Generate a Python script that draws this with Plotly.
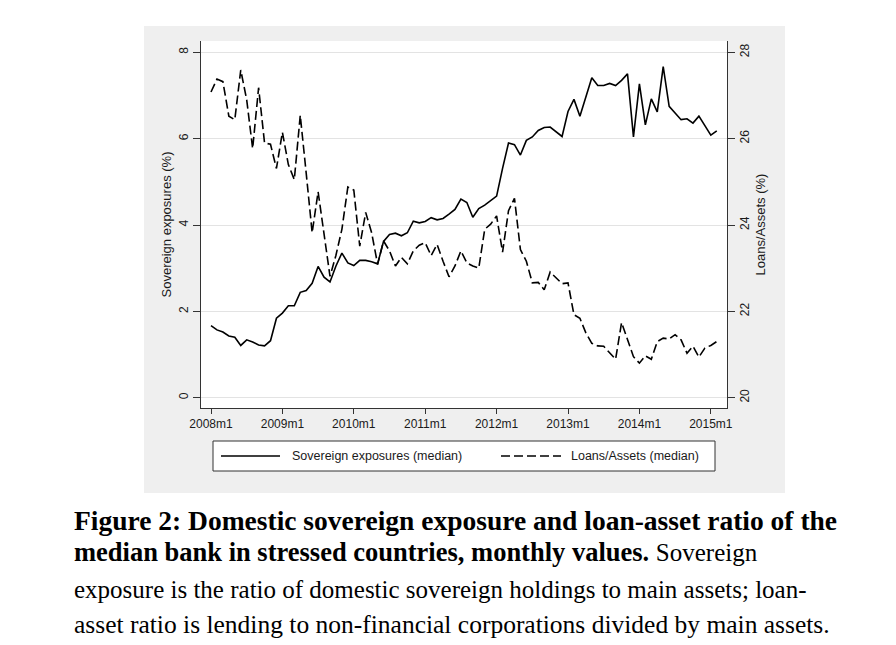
import plotly.graph_objects as go

# ---- data ----
years = [2008, 2009, 2010, 2011, 2012, 2013, 2014, 2015]
months = [f"{y}m{m}" for y in years for m in range(1, 13)][:86]  # 2008m1 .. 2015m2
tick_labels = ["2008m1", "2009m1", "2010m1", "2011m1", "2012m1", "2013m1", "2014m1", "2015m1"]

sovereign = [1.67, 1.57, 1.52, 1.43, 1.40, 1.21, 1.34, 1.29, 1.22, 1.20,
             1.32, 1.84, 1.96, 2.13, 2.13, 2.44, 2.48, 2.65, 3.04, 2.79,
             2.68, 3.05, 3.35, 3.12, 3.06, 3.18, 3.18, 3.15, 3.10, 3.62,
             3.78, 3.81, 3.75, 3.82, 4.09, 4.05, 4.08, 4.17, 4.12, 4.15,
             4.25, 4.36, 4.60, 4.52, 4.18, 4.38, 4.46, 4.56, 4.67, 5.31,
             5.90, 5.86, 5.62, 5.96, 6.04, 6.19, 6.26, 6.27, 6.17, 6.05,
             6.63, 6.91, 6.52, 6.96, 7.41, 7.23, 7.23, 7.28, 7.23, 7.35,
             7.50, 6.04, 7.27, 6.32, 6.92, 6.62, 7.67, 6.75, 6.59, 6.44,
             6.46, 6.36, 6.52, 6.29, 6.08, 6.18]

loans_assets = [27.08, 27.38, 27.32, 26.52, 26.44, 27.59, 26.90, 25.77, 27.18, 25.90,
                25.87, 25.31, 26.15, 25.40, 25.05, 26.54, 25.20, 23.82, 24.77, 23.75,
                22.81, 23.30, 23.90, 24.88, 24.81, 23.51, 24.29, 23.82, 23.09, 23.63,
                23.40, 23.05, 23.25, 23.10, 23.40, 23.53, 23.59, 23.29, 23.55, 23.16,
                22.80, 23.05, 23.40, 23.12, 23.05, 23.00, 23.90, 24.02, 24.21, 23.37,
                24.33, 24.62, 23.43, 23.16, 22.66, 22.67, 22.50, 22.91, 22.78, 22.64,
                22.66, 21.92, 21.84, 21.50, 21.26, 21.20, 21.19, 21.03, 20.89, 21.74,
                21.34, 20.95, 20.80, 20.97, 20.89, 21.30, 21.38, 21.36, 21.46, 21.34,
                21.03, 21.19, 20.94, 21.15, 21.21, 21.30]

left_ticks = [0, 2, 4, 6, 8]
right_ticks = [20, 22, 24, 26, 28]

name_sov = "Sovereign exposures (median)"
name_loan = "Loans/Assets (median)"

# ---- geometry helpers (pixel -> paper) ----
W, H = 896, 645
L, R, T, B = 201, 727, 41, 408
def px(x):
    return (x - L) / (R - L)
def py(y):
    return (B - y) / (B - T)

SANS = "Liberation Sans, Arial, Helvetica, sans-serif"
SERIF = "Liberation Serif, Times New Roman, serif"
INK = "#1a1a1a"

fig = go.Figure()
fig.add_trace(go.Scatter(x=months, y=sovereign, name=name_sov, mode="lines",
                         line=dict(color="black", width=1.6), yaxis="y"))
fig.add_trace(go.Scatter(x=months, y=loans_assets, name=name_loan, mode="lines",
                         line=dict(color="black", width=1.6, dash="9px,4px"), yaxis="y2"))

shapes = [
    # grey graph region
    dict(type="rect", xref="paper", yref="paper", x0=px(144), x1=px(785), y0=py(493), y1=py(26),
         fillcolor="#efefef", line=dict(width=0), layer="below"),
    # white plot region
    dict(type="rect", xref="paper", yref="paper", x0=0, x1=1, y0=0, y1=1,
         fillcolor="white", line=dict(width=0), layer="below"),
    # legend box
    dict(type="rect", xref="paper", yref="paper", x0=px(213), x1=px(715), y0=py(471), y1=py(441),
         fillcolor="white", line=dict(color="#333333", width=1)),
    dict(type="line", xref="paper", yref="paper", x0=px(221), x1=px(280), y0=py(456), y1=py(456),
         line=dict(color="black", width=1.5)),
    dict(type="line", xref="paper", yref="paper", x0=px(501), x1=px(561), y0=py(456), y1=py(456),
         line=dict(color="black", width=1.5, dash="9px,4px")),
]

annotations = [
    dict(text=name_sov, xref="paper", yref="paper", x=px(290), y=py(456), xanchor="left",
         yanchor="middle", showarrow=False, font=dict(family=SANS, size=12.5, color=INK)),
    dict(text=name_loan, xref="paper", yref="paper", x=px(569), y=py(456), xanchor="left",
         yanchor="middle", showarrow=False, font=dict(family=SANS, size=12.5, color=INK)),
]

caption = [
    ("<b>Figure 2: Domestic sovereign exposure and loan-asset ratio of the</b>", 520, 27.5),
    ("<b>median bank in stressed countries, monthly values.</b> <span style='font-size:25px'>Sovereign</span>", 552, 26.5),
    ("exposure is the ratio of domestic sovereign holdings to main assets; loan-", 589, 25),
    ("asset ratio is lending to non-financial corporations divided by main assets.", 624, 25.5),
]
for txt, yy, fs in caption:
    annotations.append(dict(text=txt, xref="paper", yref="paper", x=px(72), y=py(yy),
                            xanchor="left", yanchor="middle", showarrow=False,
                            font=dict(family=SERIF, size=fs, color="black")))

fig.update_layout(
    width=W, height=H, autosize=False,
    margin=dict(l=L, r=W - R, t=T, b=H - B, pad=0),
    paper_bgcolor="white", plot_bgcolor="white",
    showlegend=False,
    shapes=shapes, annotations=annotations,
    xaxis=dict(type="category", categoryorder="array", categoryarray=months,
               range=[-1.68, 86.72], tickmode="array", tickvals=tick_labels, ticktext=tick_labels,
               ticks="outside", ticklen=5, tickcolor="#333", tickwidth=1,
               showline=True, linecolor="#333", linewidth=1, showgrid=False, zeroline=False,
               tickfont=dict(family=SANS, size=12, color=INK)),
    yaxis=dict(range=[-0.239, 8.262], tickmode="array", tickvals=left_ticks,
               ticks="outside", ticklen=7, tickcolor="#333", tickwidth=1, tickangle=-90,
               showline=True, linecolor="#333", linewidth=1,
               showgrid=True, gridcolor="#e3e3e3", gridwidth=1, zeroline=False,
               tickfont=dict(family=SANS, size=12, color=INK),
               title=dict(text="Sovereign exposures (%)", standoff=2,
                          font=dict(family=SANS, size=13, color=INK))),
    yaxis2=dict(range=[19.761, 28.262], tickmode="array", tickvals=right_ticks,
                overlaying="y", side="right",
                ticks="outside", ticklen=7, tickcolor="#333", tickwidth=1, tickangle=-90,
                showline=True, linecolor="#333", linewidth=1,
                showgrid=False, zeroline=False,
                tickfont=dict(family=SANS, size=12, color=INK),
                title=dict(text="Loans/Assets (%)", standoff=4,
                           font=dict(family=SANS, size=13, color=INK))),
)

fig.write_html("out.html", config={"displayModeBar": False},
               post_script="document.body.style.margin='0px';")
